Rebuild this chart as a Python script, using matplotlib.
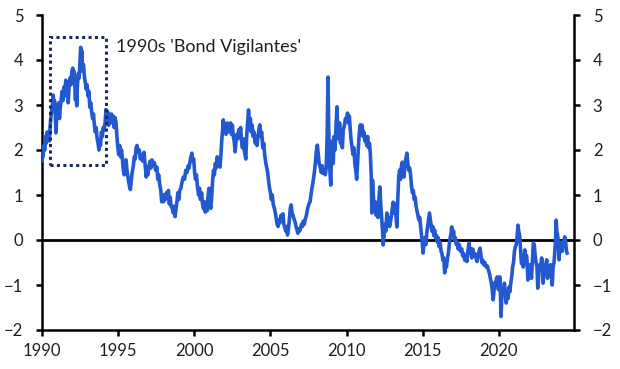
import matplotlib
matplotlib.use("Agg")
import matplotlib.pyplot as plt
from matplotlib.patches import Rectangle

plt.rcParams['font.family'] = ['Lato', 'DejaVu Sans']

# Time (decimal years) and values
years = [
    1990.00, 1990.03, 1990.07, 1990.12, 1990.18, 1990.22, 1990.28, 1990.33, 1990.38, 1990.43,
    1990.48, 1990.55, 1990.62, 1990.68, 1990.74, 1990.78, 1990.82, 1990.88, 1990.92, 1990.96,
    1991.00, 1991.05, 1991.10, 1991.15, 1991.20, 1991.27, 1991.32, 1991.38, 1991.44, 1991.50,
    1991.56, 1991.62, 1991.68, 1991.72, 1991.78, 1991.84, 1991.90, 1991.96, 1992.02, 1992.06,
    1992.10, 1992.16, 1992.20, 1992.24, 1992.28, 1992.32, 1992.38, 1992.44, 1992.50, 1992.54,
    1992.58, 1992.62, 1992.66, 1992.72, 1992.78, 1992.84, 1992.90, 1992.96, 1993.02, 1993.08,
    1993.14, 1993.20, 1993.26, 1993.32, 1993.38, 1993.44, 1993.50, 1993.56, 1993.62, 1993.68,
    1993.74, 1993.78, 1993.84, 1993.90, 1993.96, 1994.02, 1994.08, 1994.14, 1994.20, 1994.26,
    1994.32, 1994.38, 1994.44, 1994.50, 1994.56, 1994.62, 1994.68, 1994.74, 1994.80, 1994.86,
    1994.92, 1994.98, 1995.04, 1995.10, 1995.16, 1995.22, 1995.28, 1995.34, 1995.40, 1995.46,
    1995.52, 1995.58, 1995.66, 1995.74, 1995.80, 1995.86, 1995.92, 1996.00, 1996.06, 1996.12,
    1996.18, 1996.24, 1996.30, 1996.38, 1996.46, 1996.54, 1996.62, 1996.70, 1996.78, 1996.84,
    1996.90, 1996.96, 1997.02, 1997.10, 1997.16, 1997.22, 1997.30, 1997.38, 1997.46, 1997.54,
    1997.60, 1997.66, 1997.72, 1997.80, 1997.86, 1997.92, 1997.98, 1998.04, 1998.10, 1998.16,
    1998.24, 1998.30, 1998.36, 1998.42, 1998.48, 1998.56, 1998.62, 1998.68, 1998.74, 1998.80,
    1998.86, 1998.92, 1998.98, 1999.04, 1999.12, 1999.20, 1999.28, 1999.36, 1999.44, 1999.52,
    1999.60, 1999.66, 1999.72, 1999.78, 1999.84, 1999.90, 1999.96, 2000.02, 2000.08, 2000.14,
    2000.20, 2000.28, 2000.34, 2000.40, 2000.48, 2000.54, 2000.60, 2000.66, 2000.72, 2000.78,
    2000.84, 2000.90, 2000.96, 2001.02, 2001.08, 2001.14, 2001.20, 2001.26, 2001.32, 2001.38,
    2001.44, 2001.50, 2001.56, 2001.62, 2001.68, 2001.74, 2001.80, 2001.86, 2001.90, 2001.96,
    2002.02, 2002.08, 2002.14, 2002.20, 2002.26, 2002.32, 2002.38, 2002.44, 2002.50, 2002.56,
    2002.62, 2002.68, 2002.74, 2002.80, 2002.86, 2002.92, 2002.98, 2003.04, 2003.10, 2003.16,
    2003.22, 2003.30, 2003.38, 2003.44, 2003.50, 2003.56, 2003.62, 2003.68, 2003.74, 2003.80,
    2003.86, 2003.92, 2004.00, 2004.06, 2004.12, 2004.18, 2004.24, 2004.30, 2004.36, 2004.42,
    2004.50, 2004.56, 2004.62, 2004.70, 2004.76, 2004.82, 2004.88, 2004.94, 2005.00, 2005.06,
    2005.12, 2005.18, 2005.26, 2005.32, 2005.38, 2005.44, 2005.50, 2005.56, 2005.62, 2005.70,
    2005.76, 2005.82, 2005.88, 2005.94, 2006.00, 2006.06, 2006.12, 2006.18, 2006.24, 2006.30,
    2006.36, 2006.42, 2006.48, 2006.56, 2006.62, 2006.68, 2006.74, 2006.80, 2006.86, 2006.92,
    2006.98, 2007.04, 2007.10, 2007.16, 2007.22, 2007.28, 2007.36, 2007.44, 2007.52, 2007.60,
    2007.66, 2007.72, 2007.78, 2007.84, 2007.90, 2007.96, 2008.02, 2008.08, 2008.14, 2008.20,
    2008.28, 2008.34, 2008.40, 2008.46, 2008.52, 2008.60, 2008.66, 2008.72, 2008.78, 2008.82,
    2008.86, 2008.90, 2008.96, 2009.00, 2009.06, 2009.12, 2009.18, 2009.24, 2009.30, 2009.37,
    2009.42, 2009.48, 2009.54, 2009.60, 2009.66, 2009.72, 2009.78, 2009.86, 2009.92, 2010.00,
    2010.06, 2010.12, 2010.18, 2010.24, 2010.30, 2010.36, 2010.42, 2010.48, 2010.54, 2010.60,
    2010.66, 2010.72, 2010.78, 2010.84, 2010.90, 2010.96, 2011.02, 2011.08, 2011.14, 2011.20,
    2011.26, 2011.32, 2011.38, 2011.44, 2011.50, 2011.56, 2011.62, 2011.66, 2011.70, 2011.76,
    2011.82, 2011.88, 2011.94, 2012.00, 2012.06, 2012.12, 2012.18, 2012.24, 2012.30, 2012.36,
    2012.40, 2012.46, 2012.52, 2012.58, 2012.64, 2012.70, 2012.76, 2012.82, 2012.88, 2012.94,
    2013.00, 2013.06, 2013.12, 2013.18, 2013.24, 2013.30, 2013.36, 2013.42, 2013.48, 2013.54,
    2013.60, 2013.66, 2013.72, 2013.77, 2013.84, 2013.92, 2013.96, 2014.02, 2014.08, 2014.14,
    2014.20, 2014.26, 2014.32, 2014.38, 2014.44, 2014.50, 2014.56, 2014.62, 2014.68, 2014.74,
    2014.80, 2014.86, 2014.92, 2014.98, 2015.02, 2015.08, 2015.14, 2015.20, 2015.26, 2015.32,
    2015.38, 2015.44, 2015.48, 2015.54, 2015.60, 2015.66, 2015.72, 2015.78, 2015.84, 2015.90,
    2015.96, 2016.02, 2016.08, 2016.14, 2016.20, 2016.26, 2016.32, 2016.38, 2016.44, 2016.50,
    2016.56, 2016.62, 2016.68, 2016.74, 2016.80, 2016.86, 2016.90, 2016.96, 2017.02, 2017.08,
    2017.14, 2017.20, 2017.26, 2017.32, 2017.40, 2017.48, 2017.56, 2017.62, 2017.68, 2017.76,
    2017.82, 2017.90, 2017.96, 2018.04, 2018.10, 2018.16, 2018.22, 2018.28, 2018.34, 2018.42,
    2018.50, 2018.56, 2018.62, 2018.70, 2018.76, 2018.82, 2018.88, 2018.94, 2019.00, 2019.08,
    2019.16, 2019.24, 2019.32, 2019.38, 2019.44, 2019.50, 2019.56, 2019.62, 2019.66, 2019.72,
    2019.78, 2019.84, 2019.90, 2019.96, 2020.02, 2020.06, 2020.10, 2020.14, 2020.18, 2020.24,
    2020.30, 2020.36, 2020.42, 2020.48, 2020.54, 2020.60, 2020.66, 2020.72, 2020.78, 2020.84,
    2020.90, 2020.96, 2021.02, 2021.08, 2021.14, 2021.20, 2021.25, 2021.30, 2021.36, 2021.42,
    2021.48, 2021.54, 2021.60, 2021.66, 2021.70, 2021.76, 2021.82, 2021.86, 2021.90, 2021.96,
    2022.02, 2022.08, 2022.14, 2022.20, 2022.26, 2022.32, 2022.38, 2022.44, 2022.50, 2022.55,
    2022.62, 2022.68, 2022.74, 2022.80, 2022.84, 2022.90, 2022.96, 2023.02, 2023.08, 2023.14,
    2023.20, 2023.28, 2023.34, 2023.40, 2023.46, 2023.50, 2023.56, 2023.62, 2023.68, 2023.72,
    2023.76, 2023.80, 2023.86, 2023.90, 2023.95, 2024.00, 2024.06, 2024.12, 2024.16, 2024.20,
    2024.26, 2024.32, 2024.38, 2024.44, 2024.48,
]

values = [
    1.75, 2.00, 1.85, 2.10, 2.00, 2.30, 2.15, 2.40, 2.25, 2.35,
    2.20, 2.60, 2.85, 3.00, 3.22, 2.90, 3.10, 2.70, 2.38, 2.70,
    3.00, 2.85, 3.05, 2.70, 2.95, 3.15, 3.30, 3.10, 3.40, 3.20,
    3.55, 3.35, 3.30, 3.05, 3.40, 3.60, 3.45, 3.75, 3.82, 3.60,
    3.75, 3.40, 3.11, 3.50, 2.98, 3.40, 3.70, 3.60, 4.00, 4.28,
    4.05, 4.20, 3.75, 3.90, 3.65, 3.50, 3.35, 3.45, 3.20, 3.30,
    2.95, 3.05, 2.85, 2.70, 2.80, 2.55, 2.40, 2.50, 2.25, 2.15,
    2.00, 2.20, 2.10, 2.40, 2.30, 2.50, 2.45, 2.60, 2.90, 2.70,
    2.85, 2.55, 2.75, 2.65, 2.80, 2.60, 2.75, 2.50, 2.72, 2.60,
    2.30, 2.05, 1.90, 2.10, 1.85, 2.00, 1.80, 1.55, 1.45, 1.60,
    1.78, 1.55, 1.35, 1.20, 1.12, 1.30, 1.50, 1.65, 1.85, 1.80,
    2.05, 2.10, 1.95, 2.00, 1.80, 1.90, 1.75, 1.95, 1.65, 1.40,
    1.50, 1.45, 1.65, 1.75, 1.60, 1.78, 1.70, 1.72, 1.55, 1.62,
    1.35, 1.45, 1.25, 1.10, 0.85, 1.00, 0.85, 1.00, 0.90, 1.05,
    0.95, 1.10, 0.80, 0.95, 0.75, 0.70, 0.60, 0.75, 0.52, 0.70,
    0.85, 1.05, 0.90, 1.10, 1.15, 1.30, 1.40, 1.35, 1.55, 1.50,
    1.65, 1.60, 1.75, 1.85, 1.93, 1.75, 1.80, 1.50, 1.35, 1.45,
    1.20, 1.00, 1.15, 0.90, 1.05, 0.80, 0.70, 0.85, 0.62, 0.75,
    0.65, 0.95, 1.15, 0.80, 0.70, 0.95, 1.30, 1.55, 1.45, 1.70,
    1.60, 1.85, 1.75, 1.80, 1.62, 1.85, 2.20, 2.45, 2.67, 2.40,
    2.55, 2.35, 2.60, 2.40, 2.58, 2.45, 2.60, 2.35, 2.55, 2.30,
    2.20, 1.96, 2.20, 2.35, 2.25, 2.45, 2.30, 2.50, 2.20, 2.05,
    2.25, 1.95, 1.80, 2.30, 2.60, 2.89, 2.60, 2.70, 2.40, 2.55,
    2.30, 2.40, 2.15, 2.30, 2.10, 2.30, 2.45, 2.56, 2.30, 2.40,
    2.05, 2.15, 1.90, 1.70, 1.60, 1.50, 1.30, 1.15, 1.05, 0.90,
    1.00, 0.80, 0.70, 0.60, 0.48, 0.35, 0.30, 0.45, 0.38, 0.55,
    0.45, 0.58, 0.35, 0.28, 0.20, 0.30, 0.11, 0.25, 0.45, 0.70,
    0.78, 0.60, 0.55, 0.45, 0.40, 0.30, 0.22, 0.15, 0.25, 0.20,
    0.28, 0.35, 0.30, 0.42, 0.35, 0.45, 0.55, 0.70, 0.80, 0.85,
    1.00, 1.15, 1.25, 1.40, 1.55, 1.75, 2.00, 2.11, 1.90, 1.70,
    1.60, 1.50, 1.65, 1.48, 1.55, 1.45, 1.60, 2.30, 3.62, 2.60,
    2.00, 1.55, 1.22, 1.80, 2.20, 1.70, 2.30, 2.00, 2.50, 2.96,
    2.40, 2.25, 2.60, 2.15, 2.30, 2.05, 2.45, 2.55, 2.70, 2.65,
    2.82, 2.60, 2.75, 2.45, 2.20, 2.05, 1.90, 2.05, 1.70, 1.55,
    1.35, 1.70, 2.10, 2.40, 2.56, 2.45, 2.55, 2.30, 2.40, 2.20,
    2.30, 2.10, 2.30, 2.05, 2.15, 1.90, 1.40, 0.60, 1.33, 0.95,
    0.70, 0.85, 0.55, 0.70, 0.50, 0.90, 1.18, 0.80, 0.50, 0.20,
    -0.11, 0.10, 0.35, 0.20, 0.60, 0.45, 0.50, 0.30, 0.40, 0.55,
    0.70, 0.84, 0.60, 0.80, 0.55, 0.29, 0.90, 1.40, 1.55, 1.35,
    1.65, 1.73, 1.50, 1.40, 1.70, 1.85, 1.93, 1.70, 1.55, 1.60,
    1.45, 1.20, 1.05, 1.10, 0.90, 0.95, 0.75, 0.65, 0.55, 0.45,
    0.50, 0.30, 0.10, -0.10, -0.29, -0.05, 0.05, -0.10, 0.15, 0.30,
    0.45, 0.60, 0.50, 0.35, 0.20, 0.30, 0.10, 0.22, 0.05, 0.10,
    -0.05, 0.05, -0.15, -0.05, -0.25, -0.30, -0.45, -0.40, -0.73, -0.55,
    -0.60, -0.40, -0.30, -0.10, 0.05, 0.15, 0.29, 0.10, 0.20, 0.00,
    0.05, -0.10, -0.05, -0.20, -0.10, -0.25, -0.20, -0.35, -0.30, -0.45,
    -0.35, -0.48, -0.25, -0.07, -0.30, -0.20, -0.40, -0.20, -0.35, -0.30,
    -0.40, -0.48, -0.35, -0.25, -0.18, -0.35, -0.50, -0.45, -0.55, -0.50,
    -0.60, -0.58, -0.68, -0.75, -0.85, -0.95, -1.10, -1.33, -1.20, -0.95,
    -1.00, -0.85, -0.82, -1.10, -1.00, -0.82, -1.20, -1.70, -1.35, -1.10,
    -1.20, -0.96, -1.15, -1.40, -1.20, -1.30, -1.05, -1.15, -0.95, -0.82,
    -0.60, -0.50, -0.25, -0.15, -0.10, 0.10, 0.33, 0.20, 0.10, -0.20,
    -0.52, -0.45, -0.60, -0.40, -0.22, -0.40, -0.35, -0.55, -0.89, -0.70,
    -0.55, -0.65, -0.85, -0.45, -0.07, -0.10, -0.35, -0.50, -0.60, -1.07,
    -0.75, -0.55, -0.60, -0.40, -0.44, -0.96, -0.75, -0.70, -0.55, -0.44,
    -0.85, -0.65, -0.70, -0.55, -0.80, -1.00, -0.60, -0.50, -0.22, 0.00,
    0.44, 0.20, 0.10, -0.10, -0.44, -0.20, -0.05, -0.15, -0.25, -0.05,
    -0.10, 0.07, -0.05, -0.25, -0.29,
]

x_ticks = [1990, 1995, 2000, 2005, 2010, 2015, 2020]
y_ticks = [-2, -1, 0, 1, 2, 3, 4, 5]
annotation = "1990s 'Bond Vigilantes'"
box_x = [1990.53, 1994.2]
box_y = [1.67, 4.51]

line_color = "#2258D0"
text_color = "#1f1f1f"

fig = plt.figure(figsize=(6.2, 3.69), dpi=100)
ax = fig.add_axes([42 / 620, 39 / 369, 532 / 620, 315 / 369])

ax.plot(years, values, color=line_color, lw=2.6, solid_joinstyle='round', zorder=3)
ax.axhline(0, color='black', lw=2.0, zorder=2)

rect = Rectangle((box_x[0], box_y[0]), box_x[1] - box_x[0], box_y[1] - box_y[0],
                 fill=False, edgecolor="#1b2a57", lw=2.2, linestyle=(0, (1, 1.1)), zorder=4)
ax.add_patch(rect)
ax.text(1994.85, 4.29, annotation, fontsize=13, color=text_color, va='center', ha='left')

ax.set_xlim(1990, 2024.93)
ax.set_ylim(-2, 5)
ax.set_xticks(x_ticks)
ax.set_yticks(y_ticks)

ax.spines['top'].set_visible(False)
for s in ['left', 'right', 'bottom']:
    ax.spines[s].set_linewidth(1.8)
    ax.spines[s].set_color('black')

ax.tick_params(axis='y', which='both', left=True, right=True, labelleft=True, labelright=True,
               direction='out', length=4.5, width=1.8, pad=9, labelsize=12, labelcolor=text_color)
ax.tick_params(axis='x', direction='out', length=4.5, width=1.8, pad=5, labelsize=12,
               labelcolor=text_color)

fig.savefig("out.png", dpi=100)
